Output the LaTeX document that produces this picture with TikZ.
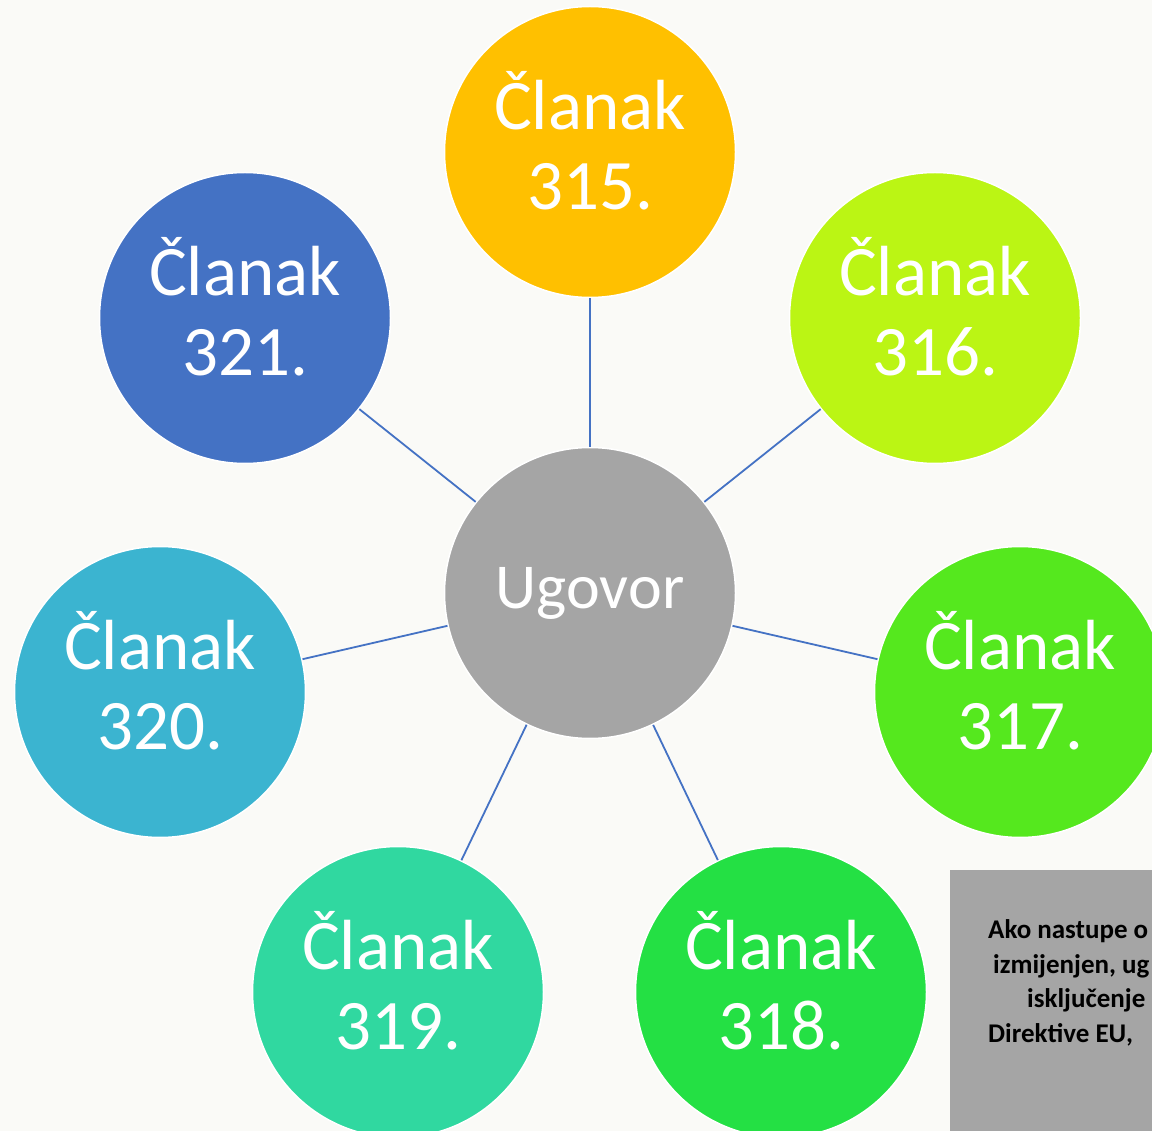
\documentclass[tikz,border=0pt]{standalone}
\usepackage{fontspec}
\setmainfont{Carlito}
\definecolor{bg}{HTML}{FAFAF7}
\definecolor{cgrey}{HTML}{A5A5A5}
\definecolor{c315}{HTML}{FFC000}
\definecolor{c316}{HTML}{BBF514}
\definecolor{c317}{HTML}{55E81E}
\definecolor{c318}{HTML}{24E044}
\definecolor{c319}{HTML}{30D8A0}
\definecolor{c320}{HTML}{3BB4D0}
\definecolor{c321}{HTML}{4472C4}
\definecolor{linkc}{HTML}{4472C4}
\newcommand{\twolines}[2]{\raisebox{9pt}{\begin{tabular}{@{}c@{}}#1\\#2\end{tabular}}}
\begin{document}
\begin{tikzpicture}[x=1pt,y=-1pt,
  art/.style={circle,minimum size=291pt,inner sep=0pt,draw=white,line width=1.5pt,text=white,
    font=\fontsize{71}{80}\selectfont},
  hub/.style={art,font=\fontsize{64}{72}\selectfont},
  link/.style={draw=linkc,line width=1.8pt},
  notebox/.style={fill=cgrey,draw=none,minimum width=260pt,minimum height=262pt,anchor=north west,inner sep=0pt},
  notetext/.style={font=\fontsize{27}{35}\selectfont\bfseries,text=black,anchor=base west,inner sep=0pt}]
\useasboundingbox (0,0) rectangle (1152,1131);
\clip (0,0) rectangle (1152,1131);
\fill[bg] (0,0) rectangle (1152,1131);
\node[hub,fill=cgrey] (c) at (590,593) {Ugovor};
\node[art,fill=c315] (a315) at (590,152) {\twolines{Članak}{315.}};
\node[art,fill=c316] (a316) at (935,318) {\twolines{Članak}{316.}};
\node[art,fill=c317] (a317) at (1020,692) {\twolines{Članak}{317.}};
\node[art,fill=c318] (a318) at (781,992) {\twolines{Članak}{318.}};
\node[art,fill=c319] (a319) at (398,992) {\twolines{Članak}{319.}};
\node[art,fill=c320] (a320) at (160,692) {\twolines{Članak}{320.}};
\node[art,fill=c321] (a321) at (245,318) {\twolines{Članak}{321.}};
\foreach \n in {a315,a316,a317,a318,a319,a320,a321}
  \draw[link] (c) -- (\n);
\node[notebox] (box) at (950,870) {};
\node[notetext] (t1) at (988,938) {Ako nastupe o};
\node[notetext] (t2) at (993,973) {izmijenjen, ug};
\node[notetext] (t3) at (1027,1007) {isključenje};
\node[notetext] (t4) at (988,1042) {Direktive EU, };
\end{tikzpicture}
\end{document}
